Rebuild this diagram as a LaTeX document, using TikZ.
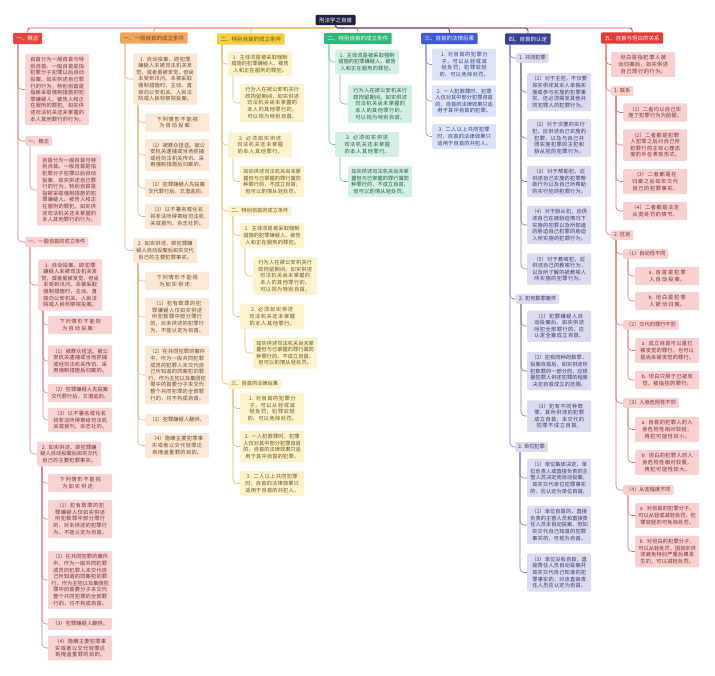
\documentclass[tikz,border=0pt]{standalone}
\usepackage{fontspec}
\newfontfamily\cjk{Noto Sans CJK SC}
\XeTeXlinebreaklocale "zh"
\XeTeXlinebreakskip = 0pt plus 1pt
\usetikzlibrary{calc}
\definecolor{titlebg}{HTML}{1E2240}
\definecolor{hA}{HTML}{E8453C}\definecolor{fA}{HTML}{F8D3D3}\definecolor{lA}{HTML}{DB7C7C}\definecolor{tA}{HTML}{7A2E2E}
\definecolor{hB}{HTML}{F3A65B}\definecolor{fB}{HTML}{FBE8D6}\definecolor{lB}{HTML}{E5B27C}\definecolor{tB}{HTML}{6E4520}
\definecolor{hC}{HTML}{F5CF3D}\definecolor{fC}{HTML}{FCF2CC}\definecolor{lC}{HTML}{DFC45A}\definecolor{tC}{HTML}{665618}
\definecolor{hD}{HTML}{2DB877}\definecolor{fD}{HTML}{D4F0E2}\definecolor{lD}{HTML}{62C293}\definecolor{tD}{HTML}{1F5E3F}
\definecolor{hE}{HTML}{3E5AD6}\definecolor{fE}{HTML}{DDE3F7}\definecolor{lE}{HTML}{7F93E0}\definecolor{tE}{HTML}{2B3C85}
\definecolor{hF}{HTML}{3A3E96}\definecolor{fF}{HTML}{DCDCF0}\definecolor{lF}{HTML}{7A7DB8}\definecolor{tF}{HTML}{35376E}
\definecolor{hG}{HTML}{E53935}\definecolor{fG}{HTML}{F8D0D0}\definecolor{lG}{HTML}{E07070}\definecolor{tG}{HTML}{7A2E2E}
\tikzset{
  base/.style={font=\cjk\fontsize{5.2}{6.6}\selectfont, inner xsep=3pt, inner ysep=3.4pt, rounded corners=1.2pt, anchor=west},
  bx/.style={base, text width=58pt, align=center},
  lb/.style={base, inner ysep=2.4pt},
  hd/.style={base, font=\cjk\fontsize{5.5}{6.6}\selectfont, inner xsep=3.5pt, inner ysep=3pt, rounded corners=1pt},
  kA/.style={fill=fA, text=tA}, kB/.style={fill=fB, text=tB}, kC/.style={fill=fC, text=tC},
  kD/.style={fill=fD, text=tD}, kE/.style={fill=fE, text=tE}, kF/.style={fill=fF, text=tF},
  kG/.style={fill=fG, text=tG},
  conn/.style={rounded corners=4pt, line width=0.6pt},
  topl/.style={rounded corners=2.5pt, line width=0.9pt},
}
\newcommand\mmlink[3]{\draw[conn,#1] ($(#2.south west)+(5,0)$) |- (#3.west);}
\begin{document}
\begin{tikzpicture}[x=1pt,y=-1pt]
\fill[white] (0,0) rectangle (715,675);
\useasboundingbox (0,0) rectangle (715,675);
\coordinate (bus) at (0,28);
\node[anchor=center, fill=titlebg, text=white, font=\cjk\fontsize{5.5}{6.6}\selectfont, inner xsep=3.5pt, inner ysep=2.6pt, rounded corners=1pt] (title) at (335.5,20) {刑法学之自首};
% headers
\node[hd, fill=hA, text=white] (h1) at (13,38.5) {一、概念};
\node[hd, fill=hB, text=tB] (h2) at (120,38) {一、一般自首的成立条件};
\node[hd, fill=hC, text=tC] (h3) at (217,39) {二、特别自首的成立条件};
\node[hd, fill=hD, text=white] (h4) at (324,38.5) {二、特别自首的成立条件};
\node[hd, fill=hE, text=white] (h5) at (421,38.5) {三、自首的法律后果};
\node[hd, fill=hF, text=white] (h6) at (505,39) {四、自首的认定};
\node[hd, fill=hG, text=white] (h7) at (601,38) {五、自首与坦白的关系};
% top lines
\draw[topl, hA] (title.south) -- (title.south |- bus) -- (h1.north |- bus) -- (h1.north);
\draw[topl, hB] (title.south) -- (title.south |- bus) -- (h2.north |- bus) -- (h2.north);
\draw[topl, hC] (title.south) -- (title.south |- bus) -- (h3.north |- bus) -- (h3.north);
\draw[topl, hD] (title.south) -- (title.south |- bus) -- (h4.north |- bus) -- (h4.north);
\draw[topl, hE] (title.south) -- (title.south |- bus) -- (h5.north |- bus) -- (h5.north);
\draw[topl, hF] (title.south) -- (title.south |- bus) -- (h6.north |- bus) -- (h6.north);
\draw[topl, hG] (title.south) -- (title.south |- bus) -- (h7.north |- bus) -- (h7.north);
% ---------- column 1
\node[bx,kA] (a1) at (25,89.5) {自首分为一般自首与特别自首。一般自首是指犯罪分子犯罪以后自动投案，如实供述自己罪行的行为，特别自首是指被采取强制措施的犯罪嫌疑人、被告人和正在服刑的罪犯，如实供述司法机关还未掌握的本人其他罪行的行为。};
\node[lb,kA] (a2) at (25,141) {一、概念};
\node[bx,kA] (a3) at (37,190) {自首分为一般自首与特别自首。一般自首是指犯罪分子犯罪以后自动投案，如实供述自己罪行的行为，特别自首是指被采取强制措施的犯罪嫌疑人、被告人和正在服刑的罪犯，如实供述司法机关还未掌握的本人其他罪行的行为。};
\node[lb,kA] (a4) at (25,242) {一、一般自首的成立条件};
\node[bx,kA] (a5) at (38,285) {1. 自动投案，即犯罪嫌疑人未被司法机关发觉，或者虽被发觉，但尚未受到讯问、未被采取强制措施时，主动、直接向公安机关、人民法院或人民检察院投案。};
\node[bx,kA] (a6) at (48,325) {下列情形不能视为自动投案：};
\node[bx,kA] (a7) at (48,361) {（1）被群众扭送、被公安机关逮捕或当场抓捕或经司法机关传讯、采用强制措施后归案的。};
\node[bx,kA] (a8) at (48,393) {（2）犯罪嫌疑人先投案交代罪行后，又潜逃的。};
\node[bx,kA] (a9) at (48,420) {（3）以不署名或化名将非法所得寄给司法机关或报刊、杂志社的。};
\node[bx,kA] (a10) at (37,454) {2. 如实供述，即犯罪嫌疑人自动投案后如实交代自己的主要犯罪事实。};
\node[bx,kA] (a11) at (48,483) {下列情形不能视为如实供述：};
\node[bx,kA] (a12) at (48,519) {（1）犯有数罪的犯罪嫌疑人仅如实供述所犯数罪中部分罪行的，对未供述的犯罪行为，不能认定为自首。};
\node[bx,kA] (a13) at (48,580) {（2）在共同犯罪的案件中，作为一般共同犯罪成员的犯罪人未交代自己所知道的同案犯的罪行，作为主犯以及集团犯罪中的首要分子未交代整个共同犯罪的全部罪行的，均不构成自首。};
\node[bx,kA] (a14) at (48,624) {（3）犯罪嫌疑人翻供。};
\node[bx,kA] (a15) at (48,648) {（4）隐瞒主要犯罪事实或者以交代轻罪达到掩盖重罪的目的。};
\mmlink{lA}{h1}{a1}\mmlink{lA}{h1}{a2}\mmlink{lA}{h1}{a4}
\mmlink{lA}{a2}{a3}
\mmlink{lA}{a4}{a5}\mmlink{lA}{a4}{a10}
\mmlink{lA}{a5}{a6}\mmlink{lA}{a5}{a7}\mmlink{lA}{a5}{a8}\mmlink{lA}{a5}{a9}
\mmlink{lA}{a10}{a11}\mmlink{lA}{a10}{a12}\mmlink{lA}{a10}{a13}\mmlink{lA}{a10}{a14}\mmlink{lA}{a10}{a15}
% ---------- column 2
\node[bx,kB] (b1) at (133,79) {1. 自动投案，即犯罪嫌疑人未被司法机关发觉，或者虽被发觉，但尚未受到讯问、未被采取强制措施时，主动、直接向公安机关、人民法院或人民检察院投案。};
\node[bx,kB] (b2) at (145,122.5) {下列情形不能视为自动投案：};
\node[bx,kB] (b3) at (145,155) {（1）被群众扭送、被公安机关逮捕或当场抓捕或经司法机关传讯、采用强制措施后归案的。};
\node[bx,kB] (b4) at (145,188) {（2）犯罪嫌疑人先投案交代罪行后，又潜逃的。};
\node[bx,kB] (b5) at (145,216.5) {（3）以不署名或化名将非法所得寄给司法机关或报刊、杂志社的。};
\node[bx,kB] (b6) at (133,250.5) {2. 如实供述，即犯罪嫌疑人自动投案后如实交代自己的主要犯罪事实。};
\node[bx,kB] (b7) at (145,281) {下列情形不能视为如实供述：};
\node[bx,kB] (b8) at (145,317) {（1）犯有数罪的犯罪嫌疑人仅如实供述所犯数罪中部分罪行的，对未供述的犯罪行为，不能认定为自首。};
\node[bx,kB] (b9) at (145,375) {（2）在共同犯罪的案件中，作为一般共同犯罪成员的犯罪人未交代自己所知道的同案犯的罪行，作为主犯以及集团犯罪中的首要分子未交代整个共同犯罪的全部罪行的，均不构成自首。};
\node[bx,kB] (b10) at (145,420) {（3）犯罪嫌疑人翻供。};
\node[bx,kB] (b11) at (145,445.5) {（4）隐瞒主要犯罪事实或者以交代轻罪达到掩盖重罪的目的。};
\mmlink{lB}{h2}{b1}\mmlink{lB}{h2}{b6}
\mmlink{lB}{b1}{b2}\mmlink{lB}{b1}{b3}\mmlink{lB}{b1}{b4}\mmlink{lB}{b1}{b5}
\mmlink{lB}{b6}{b7}\mmlink{lB}{b6}{b8}\mmlink{lB}{b6}{b9}\mmlink{lB}{b6}{b10}\mmlink{lB}{b6}{b11}
% ---------- column 3
\node[bx,kC] (c1) at (228,64) {1. 主体须是被采取强制措施的犯罪嫌疑人、被告人和正在服刑的罪犯。};
\node[bx,kC] (c2) at (240,103) {行为人在被公安机关行政拘留期间，如实供述司法机关尚未掌握的本人的其他罪行的，可以视为特别自首。};
\node[bx,kC] (c3) at (228,145) {2. 必须如实供述司法机关还未掌握的本人其他罪行。};
\node[bx,kC] (c4) at (240,181.5) {如实供述司法机关尚未掌握但与已掌握的罪行属同种罪行的，不成立自首，但可以酌情从轻处罚。};
\node[lb,kC] (c5) at (228,211) {二、特别自首的成立条件};
\node[bx,kC] (c6) at (240,235.5) {1. 主体须是被采取强制措施的犯罪嫌疑人、被告人和正在服刑的罪犯。};
\node[bx,kC] (c7) at (253,276) {行为人在被公安机关行政拘留期间，如实供述司法机关尚未掌握的本人的其他罪行的，可以视为特别自首。};
\node[bx,kC] (c8) at (240,316.5) {2. 必须如实供述司法机关还未掌握的本人其他罪行。};
\node[bx,kC] (c9) at (253,353) {如实供述司法机关尚未掌握但与已掌握的罪行属同种罪行的，不成立自首，但可以酌情从轻处罚。};
\node[lb,kC] (c10) at (228,384) {三、自首的法律后果};
\node[bx,kC] (c11) at (240,408.5) {1. 对自首的犯罪分子，可以从轻或减轻处罚；犯罪较轻的，可以免除处罚。};
\node[bx,kC] (c12) at (240,446.5) {2. 一人犯数罪时，犯罪人仅对其中部分犯罪自首的，自首的法律效果只适用于其中自首的犯罪。};
\node[bx,kC] (c13) at (240,483.5) {3. 二人以上共同犯罪时，自首的法律效果只适用于自首的共犯人。};
\mmlink{lC}{h3}{c1}\mmlink{lC}{h3}{c3}\mmlink{lC}{h3}{c5}\mmlink{lC}{h3}{c10}
\mmlink{lC}{c1}{c2}\mmlink{lC}{c3}{c4}
\mmlink{lC}{c5}{c6}\mmlink{lC}{c5}{c8}
\mmlink{lC}{c6}{c7}\mmlink{lC}{c8}{c9}
\mmlink{lC}{c10}{c11}\mmlink{lC}{c10}{c12}\mmlink{lC}{c10}{c13}
% ---------- column 4
\node[bx,kD] (d1) at (335,62) {1. 主体须是被采取强制措施的犯罪嫌疑人、被告人和正在服刑的罪犯。};
\node[bx,kD] (d2) at (348,104) {行为人在被公安机关行政拘留期间，如实供述司法机关尚未掌握的本人的其他罪行的，可以视为特别自首。};
\node[bx,kD] (d3) at (335,144.5) {2. 必须如实供述司法机关还未掌握的本人其他罪行。};
\node[bx,kD] (d4) at (348,181.5) {如实供述司法机关尚未掌握但与已掌握的罪行属同种罪行的，不成立自首，但可以酌情从轻处罚。};
\mmlink{lD}{h4}{d1}\mmlink{lD}{h4}{d3}
\mmlink{lD}{d1}{d2}\mmlink{lD}{d3}{d4}
% ---------- column 5
\node[bx,kE] (e1) at (432,64.5) {1. 对自首的犯罪分子，可以从轻或减轻处罚；犯罪较轻的，可以免除处罚。};
\node[bx,kE] (e2) at (432,101) {2. 一人犯数罪时，犯罪人仅对其中部分犯罪自首的，自首的法律效果只适用于其中自首的犯罪。};
\node[bx,kE] (e3) at (432,136.5) {3. 二人以上共同犯罪时，自首的法律效果只适用于自首的共犯人。};
\mmlink{lE}{h5}{e1}\mmlink{lE}{h5}{e2}\mmlink{lE}{h5}{e3}
% ---------- column 6
\node[lb,kF] (f1) at (516,58) {1. 共同犯罪};
\node[bx,kF] (f2) at (527,92) {（1）对于主犯，不仅要如实供述其本人单独实施或参与实施的犯罪事实，还必须揭发其他共同犯罪人的犯罪行为。};
\node[bx,kF] (f3) at (527,138) {（2）对于次要的实行犯，应供述自己实施的犯罪，以及与自己共同实施犯罪的主犯和胁从犯的犯罪行为。};
\node[bx,kF] (f4) at (527,181.5) {（3）对于帮助犯，应供述自己实施的犯罪帮助行为以及自己所帮助的实行犯的犯罪行为。};
\node[bx,kF] (f5) at (527,225) {（4）对于胁从犯，应供述自己在被胁迫情况下实施的犯罪以及所知道的胁迫自己犯罪的胁迫人所实施的犯罪行为。};
\node[bx,kF] (f6) at (527,269) {（5）对于教唆犯，应供述自己的教唆行为，以及所了解的被教唆人所实施的犯罪行为。};
\node[lb,kF] (f7) at (516,299) {2. 犯有数罪案件};
\node[bx,kF] (f8) at (527,326) {（1）犯罪嫌疑人自动投案后，如实供述所犯全部罪行的，应认定全案成立自首。};
\node[bx,kF] (f9) at (527,371) {（2）犯有同种的数罪，投案自首后，如实供述所犯数罪的一部分的，应根据犯罪人供述犯罪的程度决定自首成立的范围。};
\node[bx,kF] (f10) at (527,416) {（3）犯有不同种数罪，其所供述的犯罪成立自首，未交代的犯罪不成立自首。};
\node[lb,kF] (f11) at (515,447) {3. 单位犯罪};
\node[bx,kF] (f12) at (527,478) {（1）单位集体决定、单位负责人或直接负责的主管人员决定而自动投案，如实交代单位犯罪事实的，应认定为单位自首。};
\node[bx,kF] (f13) at (527,525) {（2）单位自首的，直接负责的主管人员和直接责任人员未自动投案，但如实交代自己知道的犯罪事实的，可视为自首。};
\node[bx,kF] (f14) at (527,572.5) {（3）单位没有自首，直接责任人员自动投案并如实交代自己知道的犯罪事实的，对该直接责任人员应认定为自首。};
\mmlink{lF}{h6}{f1}\mmlink{lF}{h6}{f7}\mmlink{lF}{h6}{f11}
\mmlink{lF}{f1}{f2}\mmlink{lF}{f1}{f3}\mmlink{lF}{f1}{f4}\mmlink{lF}{f1}{f5}\mmlink{lF}{f1}{f6}
\mmlink{lF}{f7}{f8}\mmlink{lF}{f7}{f9}\mmlink{lF}{f7}{f10}
\mmlink{lF}{f11}{f12}\mmlink{lF}{f11}{f13}\mmlink{lF}{f11}{f14}
% ---------- column 7
\node[bx,kG] (g1) at (611,64.5) {坦白是指犯罪人被动归案后，如实供述自己罪行的行为。};
\node[lb,kG] (g2) at (611,91) {1. 联系};
\node[bx,kG] (g3) at (623,112.5) {（1）二者均以自己实施了犯罪行为为前提。};
\node[bx,kG] (g4) at (623,145) {（2）二者都是犯罪人犯罪之后对自己所犯罪行的主观心理态度的外在表现形式。};
\node[bx,kG] (g5) at (623,181.5) {（3）二者都是在归案之后如实交代自己的犯罪事实。};
\node[bx,kG] (g6) at (623,211) {（4）二者都是法定从宽处罚的情节。};
\node[lb,kG] (g7) at (611,235) {2. 区别};
\node[lb,kG] (g8) at (623,254) {（1）自动性不同};
\node[bx,kG] (g9) at (635,276) {a. 自首是犯罪人自动投案。};
\node[bx,kG] (g10) at (635,301) {b. 坦白是犯罪人被动归案。};
\node[lb,kG] (g11) at (623,325) {（2）交代的罪行不同};
\node[bx,kG] (g12) at (635,350.5) {a. 成立自首可以是已被发觉的罪行，也可以是尚未被发觉的罪行。};
\node[bx,kG] (g13) at (635,380) {b. 坦白只限于已被发觉、被指控的罪行。};
\node[lb,kG] (g14) at (623,403) {（3）人身危险性不同};
\node[bx,kG] (g15) at (635,429.5) {a. 自首的犯罪人的人身危险性相对较轻，再犯可能性较小。};
\node[bx,kG] (g16) at (635,462.5) {b. 坦白的犯罪人的人身危险性相对较重，再犯可能性较大。};
\node[lb,kG] (g17) at (623,490) {（4）从宽幅度不同};
\node[bx,kG] (g18) at (635,515.5) {a. 对自首的犯罪分子，可以从轻或减轻处罚，犯罪较轻的可免除处罚。};
\node[bx,kG] (g19) at (635,551.5) {b. 对坦白的犯罪分子，可以从轻处罚，因如实供述避免特别严重后果发生的，可以减轻处罚。};
\mmlink{lG}{h7}{g1}\mmlink{lG}{h7}{g2}\mmlink{lG}{h7}{g7}
\mmlink{lG}{g2}{g3}\mmlink{lG}{g2}{g4}\mmlink{lG}{g2}{g5}\mmlink{lG}{g2}{g6}
\mmlink{lG}{g7}{g8}\mmlink{lG}{g7}{g11}\mmlink{lG}{g7}{g14}\mmlink{lG}{g7}{g17}
\mmlink{lG}{g8}{g9}\mmlink{lG}{g8}{g10}
\mmlink{lG}{g11}{g12}\mmlink{lG}{g11}{g13}
\mmlink{lG}{g14}{g15}\mmlink{lG}{g14}{g16}
\mmlink{lG}{g17}{g18}\mmlink{lG}{g17}{g19}
\end{tikzpicture}
\end{document}
